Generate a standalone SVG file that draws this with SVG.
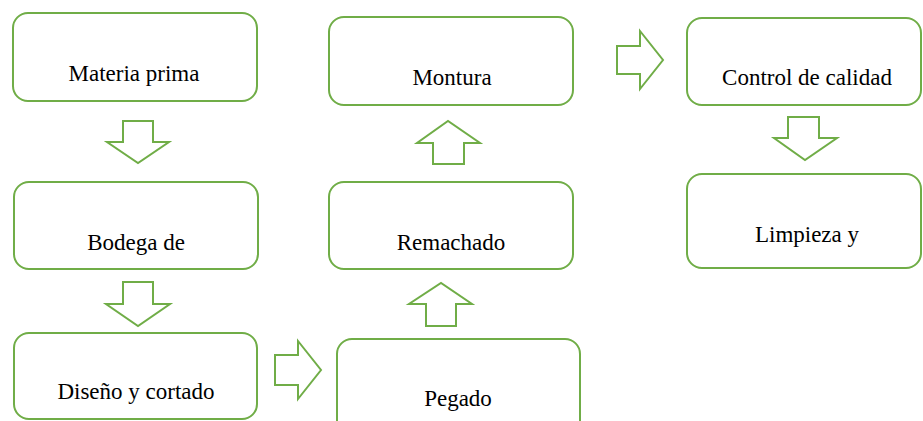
<svg xmlns="http://www.w3.org/2000/svg" width="923" height="421" viewBox="0 0 923 421">
<style>
.box{fill:#fff;stroke:#70AD47;stroke-width:2}
.arr{fill:#fff;stroke:#70AD47;stroke-width:2;stroke-linejoin:miter}
.lbl{font-family:'Liberation Serif','Times New Roman',Times,'DejaVu Serif',serif;font-size:23px;fill:#000;text-anchor:middle}
</style>
<rect width="923" height="421" fill="#fff"/>
<g id="connectors">
<polygon class="arr" points="123,121 153,121 153,142 169,142 138,163 107,142 123,142"/>
<polygon class="arr" points="123,282 153,282 153,304 170,304 138,326 106,304 123,304"/>
<polygon class="arr" points="275,355 298,355 298,341 321,370 298,399 298,385 275,385"/>
<polygon class="arr" points="426,326 456,326 456,304 472,304 441,283 409,304 426,304"/>
<polygon class="arr" points="433,164 464,164 464,143 480,143 448,121 417,143 433,143"/>
<polygon class="arr" points="617,46 640,46 640,31 663,60 640,89 640,74 617,74"/>
<polygon class="arr" points="788,117 819,117 819,138 837,138 805,160 774,138 788,138"/>
</g>
<g id="materia-prima"><rect class="box" x="13" y="13" width="244" height="88" rx="15"/><text class="lbl" x="134" y="81">Materia prima</text></g>
<g id="bodega"><rect class="box" x="14" y="182" width="244" height="87" rx="15"/><text class="lbl" x="136" y="250">Bodega de</text></g>
<g id="diseno"><rect class="box" x="14" y="333" width="243" height="86" rx="15"/><text class="lbl" x="136" y="399">Diseño y cortado</text></g>
<g id="pegado"><rect class="box" x="337" y="339" width="243" height="100" rx="15"/><text class="lbl" x="458" y="406">Pegado</text></g>
<g id="remachado"><rect class="box" x="329" y="182" width="244" height="87" rx="15"/><text class="lbl" x="451" y="250">Remachado</text></g>
<g id="montura"><rect class="box" x="329" y="17" width="244" height="88" rx="15"/><text class="lbl" x="452" y="85">Montura</text></g>
<g id="control"><rect class="box" x="687" y="18" width="234" height="87" rx="15"/><text class="lbl" x="807" y="85">Control de calidad</text></g>
<g id="limpieza"><rect class="box" x="687" y="174" width="234" height="94" rx="15"/><text class="lbl" x="807" y="242">Limpieza y</text></g>
</svg>
